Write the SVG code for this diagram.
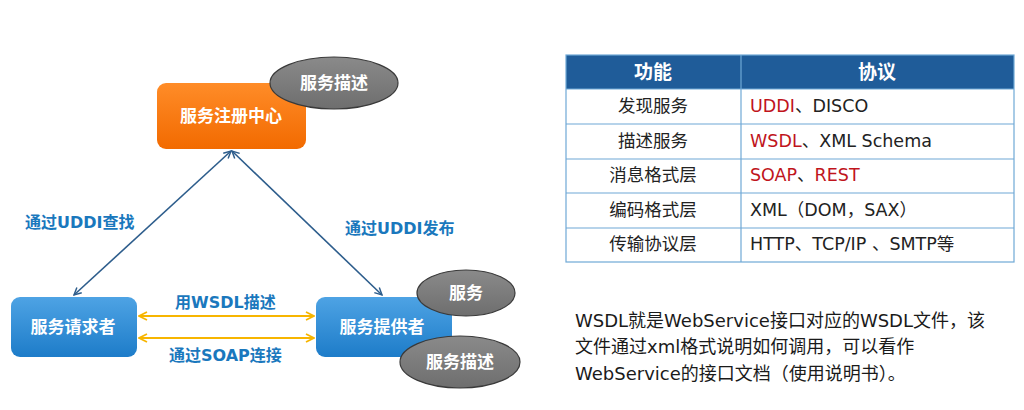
<svg xmlns="http://www.w3.org/2000/svg" width="1024" height="410" viewBox="0 0 1024 410">
<defs>
<linearGradient id="gOrange" x1="0" y1="0" x2="0" y2="1"><stop offset="0" stop-color="#ff8c28"/><stop offset="1" stop-color="#f26a00"/></linearGradient>
<linearGradient id="gBlue" x1="0" y1="0" x2="0" y2="1"><stop offset="0" stop-color="#4ea3e4"/><stop offset="1" stop-color="#1d7cc9"/></linearGradient>
<linearGradient id="gGray" x1="0" y1="0" x2="0" y2="1"><stop offset="0" stop-color="#8a8a8a"/><stop offset="1" stop-color="#6e6e6e"/></linearGradient>
<marker id="aBlue" viewBox="0 0 10 10" refX="9" refY="5" markerWidth="9" markerHeight="9" orient="auto-start-reverse" markerUnits="userSpaceOnUse"><path d="M1,1 L9,5 L1,9" fill="none" stroke="#2d5d8c" stroke-width="1.6"/></marker>
<marker id="aYel" viewBox="0 0 10 10" refX="9" refY="5" markerWidth="10" markerHeight="10" orient="auto-start-reverse" markerUnits="userSpaceOnUse"><path d="M1,1 L9,5 L1,9" fill="none" stroke="#f7b500" stroke-width="1.8"/></marker>
</defs>
<style>
.nt{font-family:"Noto Sans CJK SC","Noto Sans",sans-serif;font-weight:bold;font-size:17px;fill:#ffffff;text-anchor:middle}
.lbl{font-family:"DejaVu Sans","Noto Sans CJK SC",sans-serif;font-weight:bold;font-size:16px;fill:#1a78bd}
.ell{fill:url(#gGray);stroke:#3a3a3a;stroke-width:1.2}
.cell{font-family:"DejaVu Sans","Noto Sans CJK SC",sans-serif;font-size:17.5px;fill:#222222}
.red{fill:#c0141c}
.hdr{font-family:"Noto Sans CJK SC","Noto Sans",sans-serif;font-weight:bold;font-size:19px;fill:#ffffff;text-anchor:middle}
.grid{stroke:#6fa8d6;stroke-width:1.2;fill:none}
.para{font-family:"DejaVu Sans","Noto Sans CJK SC",sans-serif;font-size:18px;fill:#1a1a1a}
</style>
<rect width="1024" height="410" fill="#ffffff"/>

<g id="connectors">
<line x1="231" y1="151" x2="74" y2="295" stroke="#2d5d8c" stroke-width="1.6" marker-start="url(#aBlue)" marker-end="url(#aBlue)"/>
<line x1="232" y1="151" x2="382" y2="295" stroke="#2d5d8c" stroke-width="1.6" marker-start="url(#aBlue)" marker-end="url(#aBlue)"/>
<line x1="139" y1="316" x2="314" y2="316" stroke="#f7b500" stroke-width="2" marker-start="url(#aYel)" marker-end="url(#aYel)"/>
<line x1="139" y1="338" x2="314" y2="338" stroke="#f7b500" stroke-width="2" marker-start="url(#aYel)" marker-end="url(#aYel)"/>
<text class="lbl" x="25" y="228">通过UDDI查找</text>
<text class="lbl" x="345" y="234">通过UDDI发布</text>
<text class="lbl" x="175" y="308">用WSDL描述</text>
<text class="lbl" x="169" y="361">通过SOAP连接</text>
</g>

<g id="registry">
<rect x="157" y="83" width="149" height="66" rx="9" fill="url(#gOrange)"/>
<text class="nt" x="231" y="122">服务注册中心</text>
</g>
<g id="registry-desc">
<ellipse class="ell" cx="334" cy="83" rx="64" ry="26"/>
<text class="nt" x="334" y="89">服务描述</text>
</g>

<g id="requester">
<rect x="11" y="297" width="126" height="60" rx="9" fill="url(#gBlue)"/>
<text class="nt" x="73" y="333">服务请求者</text>
</g>

<g id="provider">
<rect x="316" y="297" width="136" height="60" rx="9" fill="url(#gBlue)"/>
<text class="nt" x="382" y="333">服务提供者</text>
</g>
<g id="provider-service">
<ellipse class="ell" cx="466" cy="293" rx="49" ry="23"/>
<text class="nt" x="466" y="299">服务</text>
</g>
<g id="provider-desc">
<ellipse class="ell" cx="460" cy="362" rx="60" ry="26"/>
<text class="nt" x="460" y="368">服务描述</text>
</g>

<g id="table">
<rect x="566" y="55" width="448" height="34" fill="#1f5c99"/>
<text class="hdr" x="653" y="79">功能</text>
<text class="hdr" x="877" y="79">协议</text>
<rect class="grid" x="566" y="55" width="448" height="207"/>
<line class="grid" x1="741" y1="55" x2="741" y2="262"/>
<line class="grid" x1="566" y1="89" x2="1014" y2="89"/>
<line class="grid" x1="566" y1="124" x2="1014" y2="124"/>
<line class="grid" x1="566" y1="159" x2="1014" y2="159"/>
<line class="grid" x1="566" y1="193" x2="1014" y2="193"/>
<line class="grid" x1="566" y1="228" x2="1014" y2="228"/>
<text class="cell" x="653" y="112" text-anchor="middle">发现服务</text>
<text class="cell" x="653" y="147" text-anchor="middle">描述服务</text>
<text class="cell" x="653" y="181" text-anchor="middle">消息格式层</text>
<text class="cell" x="653" y="216" text-anchor="middle">编码格式层</text>
<text class="cell" x="653" y="250" text-anchor="middle">传输协议层</text>
<text class="cell" x="750" y="112"><tspan class="red">UDDI</tspan>、DISCO</text>
<text class="cell" x="750" y="147"><tspan class="red">WSDL</tspan>、XML Schema</text>
<text class="cell" x="750" y="181"><tspan class="red">SOAP</tspan>、<tspan class="red">REST</tspan></text>
<text class="cell" x="750" y="216">XML（DOM，SAX）</text>
<text class="cell" x="750" y="250">HTTP、TCP/IP 、SMTP等</text>
</g>

<g id="note">
<text class="para" x="575" y="327">WSDL就是WebService接口对应的WSDL文件，该</text>
<text class="para" x="575" y="353">文件通过xml格式说明如何调用，可以看作</text>
<text class="para" x="575" y="380">WebService的接口文档（使用说明书）。</text>
</g>
</svg>
